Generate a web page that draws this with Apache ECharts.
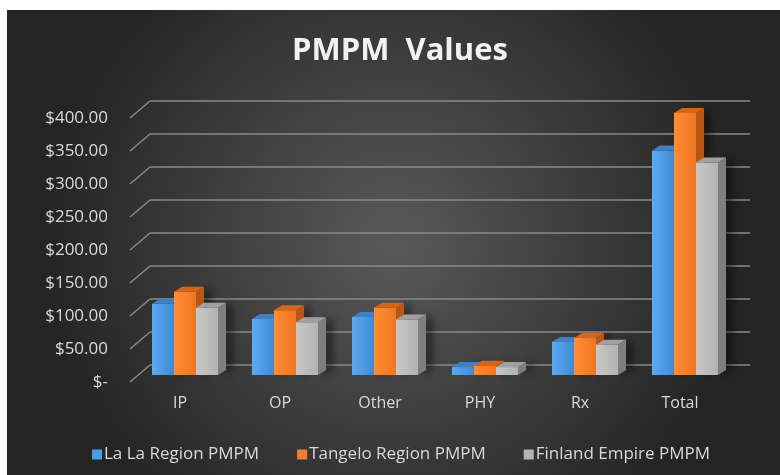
<!DOCTYPE html>
<html>
<head>
<meta charset="utf-8">
<script src="https://cdn.jsdelivr.net/npm/echarts@6/dist/echarts.min.js"></script>
<style>
  html, body { margin: 0; padding: 0; background: #ffffff; }
  #chart { position: absolute; left: 7px; top: 10px; width: 773px; height: 465px; }
</style>
</head>
<body>
<div id="chart"></div>
<script>
"use strict";
var categories = ["IP", "OP", "Other", "PHY", "Rx", "Total"];
var seriesNames = ["La La Region PMPM", "Tangelo Region PMPM", "Finland Empire PMPM"];
var laLaValues = [108, 85, 88, 12, 50, 340];
var tangeloValues = [126, 98, 102, 14, 56, 397];
var finlandValues = [102, 80, 84, 12, 46, 322];
var yTicks = [0, 50, 100, 150, 200, 250, 300, 350, 400];

// colours of each prism: front (light, dark), top, side
var faces = [
    { front: ["#5eaaf0", "#3d8bd8"], top: "#3f7fc4", side: "#2f6aa8", legend: "#4d9be4" },
    { front: ["#ff8c33", "#ef7622"], top: "#d4661c", side: "#b85614", legend: "#f37d2a" },
    { front: ["#c8c8c8", "#b2b2b2"], top: "#a0a0a0", side: "#7e7e7e", legend: "#b4b4b4" }
];

var SHIFT_X = -48, SHIFT_Y = 10;   // bar front plane vs back wall
var BAR_W = 22, DEPTH_X = 8, DEPTH_Y = 5;

function makeBars(idx) {
    return function (params, api) {
        var cat = api.value(0), val = api.value(1);
        var base = api.coord([cat, 0]);
        var top = api.coord([cat, val]);
        var x0 = base[0] + SHIFT_X + idx * BAR_W;
        var x1 = x0 + BAR_W;
        var yb = base[1] + SHIFT_Y;
        var yt = top[1] + SHIFT_Y;
        var f = faces[idx];
        return {
            type: "group",
            children: [
                {
                    type: "polygon",
                    shape: { points: [[x1, yb], [x1 + DEPTH_X, yb - DEPTH_Y], [x1 + DEPTH_X, yt - DEPTH_Y], [x1, yt]] },
                    style: { fill: f.side, shadowColor: "rgba(0,0,0,0.55)", shadowBlur: 8, shadowOffsetX: 6 }
                },
                {
                    type: "rect",
                    shape: { x: x0, y: yt, width: BAR_W, height: yb - yt },
                    style: {
                        fill: new echarts.graphic.LinearGradient(0, 0, 1, 0, [
                            { offset: 0, color: f.front[0] }, { offset: 1, color: f.front[1] }
                        ])
                    }
                },
                {
                    type: "polygon",
                    shape: { points: [[x0, yt], [x0 + DEPTH_X, yt - DEPTH_Y], [x1 + DEPTH_X, yt - DEPTH_Y], [x1, yt]] },
                    style: { fill: f.top }
                }
            ]
        };
    };
}

function pairs(vals) {
    return vals.map(function (v, i) { return [i, v]; });
}

var chart = echarts.init(document.getElementById("chart"));
var option = {
    backgroundColor: new echarts.graphic.RadialGradient(0.5, 0.5, 0.75, [
        { offset: 0, color: "#595959" },
        { offset: 1, color: "#242424" }
    ]),
    title: {
        text: "PMPM  Values",
        left: 280,
        top: 21,
        textStyle: { color: "#f2f2f2", fontSize: 31, fontWeight: "bold", fontFamily: "Open Sans" }
    },
    legend: {
        data: seriesNames.map(function (n, i) {
            return { name: n, itemStyle: { color: faces[i].legend } };
        }),
        left: 80,
        top: 431,
        icon: "rect",
        itemWidth: 10,
        itemHeight: 10,
        itemGap: 38,
        textStyle: { color: "#d9d9d9", fontSize: 17, fontFamily: "Open Sans", padding: [0, 0, 0, -3] }
    },
    // grid 0: back wall; grid 1: front edge of the floor, carries the y labels
    grid: [
        { left: 143, right: 30, top: 91, bottom: 110 },
        { left: 123, right: 50, top: 108, bottom: 93 }
    ],
    xAxis: [
        {
            type: "category",
            gridIndex: 0,
            data: categories,
            axisLine: { show: false },
            axisTick: { show: false },
            axisLabel: {
                color: "#d9d9d9",
                fontSize: 16,
                fontFamily: "Open Sans",
                margin: 30,
                padding: [0, 40, 0, 0]
            }
        },
        { type: "category", gridIndex: 1, data: categories, show: false }
    ],
    yAxis: [
        {
            type: "value",
            gridIndex: 0,
            min: 0,
            max: 400,
            interval: 50,
            axisLine: { show: false },
            axisTick: { show: false },
            axisLabel: { show: false },
            splitLine: { lineStyle: { color: "#8a8a8a", width: 1.5 } }
        },
        {
            type: "value",
            gridIndex: 1,
            min: 0,
            max: 400,
            interval: 50,
            axisLine: { show: false },
            axisTick: { show: false },
            splitLine: { show: false },
            axisLabel: {
                color: "#d9d9d9",
                fontSize: 17,
                fontFamily: "Open Sans",
                margin: 22,
                formatter: function (v) { return v === 0 ? "$-" : "$" + v.toFixed(2); }
            }
        }
    ],
    series: [
        {
            type: "custom",
            name: "floorTicks",
            silent: true,
            data: yTicks.map(function (v) { return [0, v]; }),
            renderItem: function (params, api) {
                var p = api.coord([0, api.value(1)]);
                var left = p[0] - api.size([1, 0])[0] / 2;
                return {
                    type: "line",
                    shape: { x1: left, y1: p[1], x2: left - 20, y2: p[1] + 17 },
                    style: { stroke: "#8a8a8a", lineWidth: 1.5 }
                };
            },
            z: 1
        },
        { type: "custom", name: seriesNames[0], data: pairs(laLaValues), renderItem: makeBars(0), itemStyle: { color: faces[0].legend }, z: 2 },
        { type: "custom", name: seriesNames[1], data: pairs(tangeloValues), renderItem: makeBars(1), itemStyle: { color: faces[1].legend }, z: 2 },
        { type: "custom", name: seriesNames[2], data: pairs(finlandValues), renderItem: makeBars(2), itemStyle: { color: faces[2].legend }, z: 2 }
    ]
};
chart.setOption(option);
</script>
</body>
</html>
